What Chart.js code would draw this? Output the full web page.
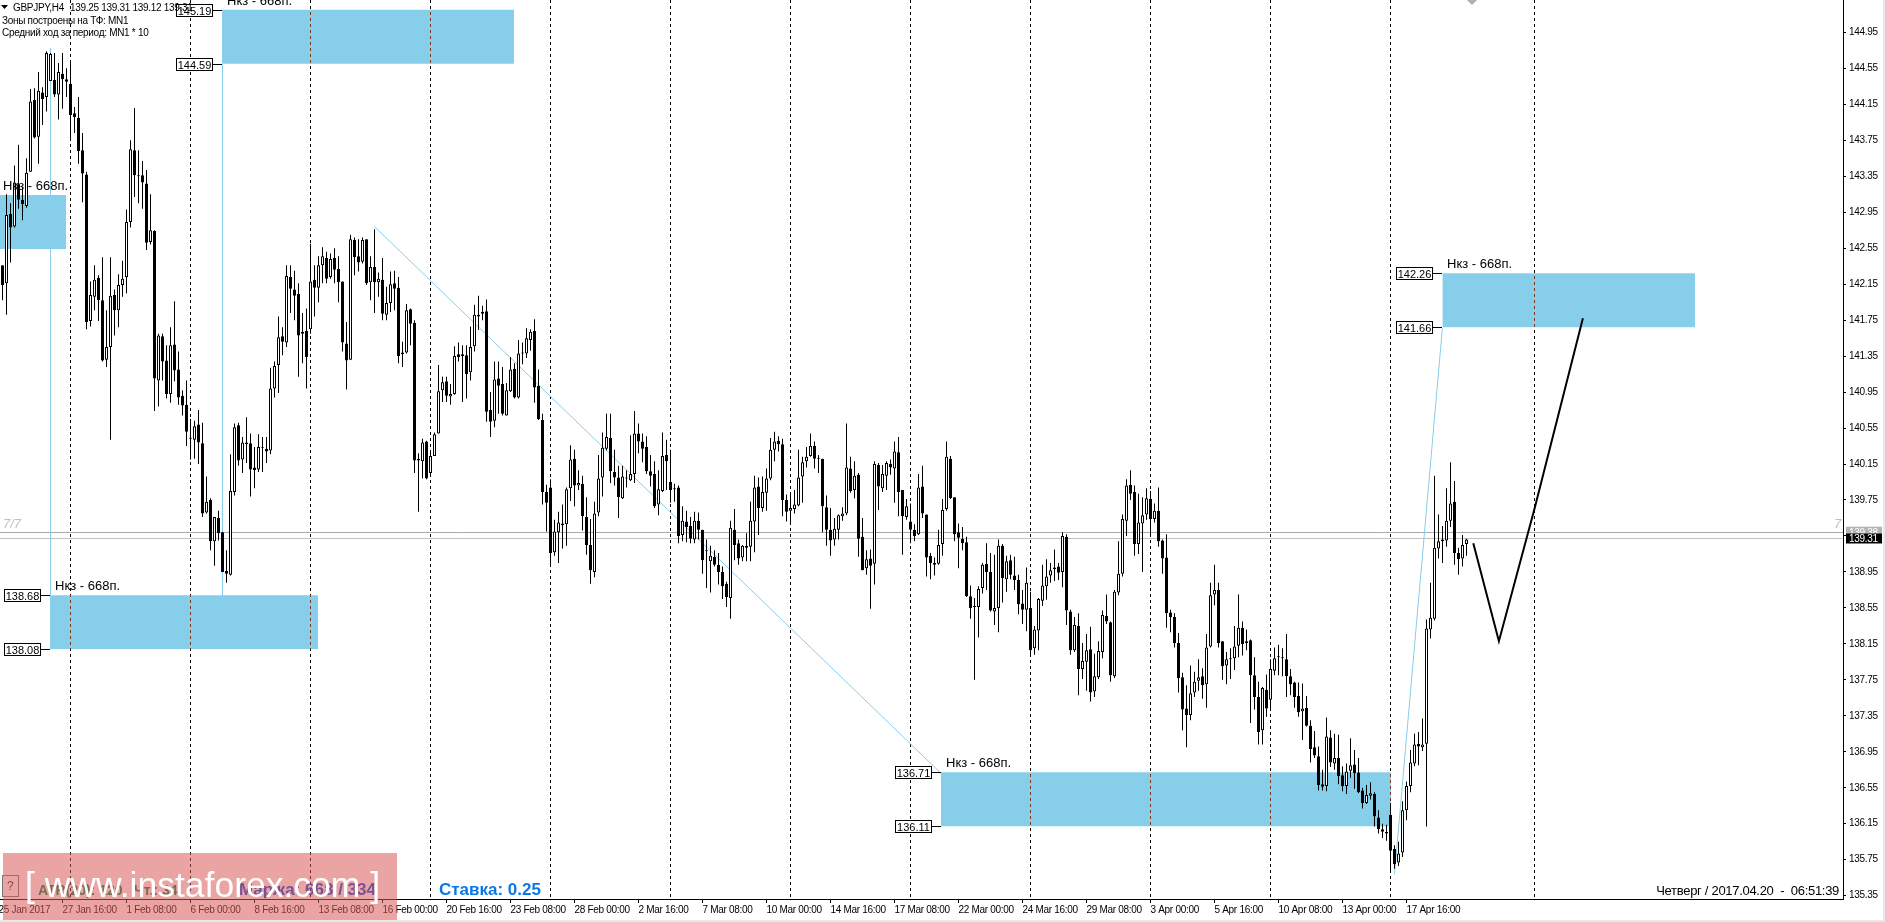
<!DOCTYPE html>
<html lang="ru">
<head>
  <meta charset="UTF-8" />
  <title>GBPJPY,H4</title>
  <script src="https://cdn.jsdelivr.net/npm/chart.js"></script>
  <style>
    html, body { margin: 0; padding: 0; background: #e6e9e9; overflow: hidden; }
    #wrap { width: 1883px; height: 920px; background: #fff; }
  </style>
</head>
<body>
  <div id="wrap"><canvas id="chart" width="1883" height="920"></canvas></div>

  <script>
    const opens = [
      142.36,142.16,142.93,142.79,143.26,143.09,143.02,143.40,144.20,143.79,
      144.28,144.23,144.41,144.42,144.26,144.49,144.43,144.38,144.05,144.00,
      143.64,143.37,141.74,142.01,142.22,141.97,141.31,141.45,142.03,141.86,
      142.14,142.23,142.84,143.64,143.36,143.36,143.27,142.62,142.74,141.08,
      141.57,141.30,140.93,141.48,141.20,140.91,140.81,140.44,140.42,140.59,
      140.38,139.61,139.75,139.29,139.55,139.39,138.96,138.92,139.84,140.58,
      140.20,140.39,140.38,140.11,140.09,140.34,140.32,140.30,140.99,141.25,
      141.57,141.50,142.23,142.09,142.04,141.62,141.63,141.65,142.20,142.11,
      142.36,142.44,142.23,142.44,142.32,142.18,141.49,141.31,142.64,142.46,
      142.40,142.65,142.17,142.34,142.17,142.20,141.81,141.94,142.16,142.11,
      141.39,141.39,141.87,141.72,140.21,140.18,140.40,140.05,140.24,140.49,
      140.97,141.07,140.90,140.93,141.37,141.35,141.36,141.17,141.46,141.79,
      141.84,141.85,140.75,140.63,141.10,141.04,140.69,140.96,141.21,140.89,
      141.38,141.38,141.53,141.63,141.02,140.64,139.84,139.89,139.17,139.39,
      139.49,139.48,139.88,140.21,139.91,139.93,139.56,139.25,138.95,139.61,
      140.00,140.32,140.44,140.06,140.00,139.77,140.00,139.97,140.04,140.49,
      140.40,140.34,140.07,140.04,139.70,139.85,140.25,139.95,139.88,139.89,
      139.36,139.51,139.46,139.31,139.52,139.42,139.19,139.07,139.12,139.03,
      138.95,138.82,138.66,139.42,139.27,139.11,139.24,139.23,139.51,139.90,
      139.66,139.83,139.99,140.31,140.41,140.37,139.75,139.63,139.65,139.69,
      140.01,140.18,140.24,140.35,140.22,140.21,139.67,139.42,139.31,139.42,
      139.57,139.60,140.10,139.86,140.03,139.34,138.99,139.10,139.04,140.14,
      139.88,140.02,140.15,140.10,140.28,139.86,139.56,139.51,139.42,139.37,
      139.90,139.59,139.13,139.05,139.04,139.26,139.65,140.21,139.78,139.39,
      139.32,139.28,138.68,138.57,138.56,138.77,139.04,138.95,138.51,138.55,
      139.24,138.87,139.08,138.91,138.86,138.60,138.53,138.55,138.10,138.30,
      138.63,138.79,138.91,138.98,139.01,138.95,139.34,138.51,138.08,138.35,
      137.87,137.95,138.09,137.62,137.78,138.06,138.46,138.39,137.79,138.72,
      138.93,139.52,139.92,139.84,139.26,139.49,139.59,139.76,139.54,139.63,
      139.30,139.11,138.50,138.45,138.16,137.78,137.43,137.36,137.61,137.74,
      137.79,137.70,138.12,138.70,138.75,138.18,137.91,137.99,137.99,138.13,
      138.33,138.16,138.19,137.80,137.56,137.19,137.64,137.53,137.85,138.00,
      138.00,137.98,137.79,137.72,137.57,137.40,137.44,137.24,137.00,136.90,
      136.59,136.57,137.11,136.82,136.88,136.69,136.57,136.74,136.81,136.72,
      136.52,136.38,136.46,136.48,136.22,136.09,136.06,136.25,135.87,135.72,
      135.83,136.30,136.57,136.82,137.04,137.00,137.04,138.31,138.43,139.21,
      139.31,139.30,139.52,139.73,139.16,139.10,139.26
    ];
    const closes = [
      142.14,142.92,142.78,143.28,143.09,143.04,143.39,144.18,143.78,144.30,
      144.21,144.72,144.71,144.26,144.51,144.43,144.40,144.03,144.01,143.63,
      143.38,141.73,142.03,142.20,141.97,141.30,141.45,142.02,141.86,142.14,
      142.21,142.84,143.65,143.36,143.35,143.28,142.61,142.75,141.10,141.58,
      141.29,140.93,141.47,141.19,140.89,140.80,140.51,140.43,140.57,140.39,
      139.60,139.73,139.29,139.56,139.38,138.95,138.93,139.85,140.56,140.19,
      140.39,140.37,140.09,140.08,140.34,140.33,140.29,140.99,141.24,141.56,
      141.51,142.24,142.10,142.02,141.58,141.60,141.34,142.18,142.11,142.36,
      142.46,142.21,142.43,142.31,142.17,141.50,141.30,142.65,142.45,142.39,
      142.64,142.16,142.34,142.17,142.21,141.82,141.94,142.15,142.10,141.35,
      141.37,141.86,141.71,140.19,140.19,140.39,139.99,140.24,140.48,140.96,
      141.06,140.91,140.93,141.35,141.34,141.37,141.15,141.45,141.81,141.81,
      141.82,140.73,140.62,141.09,141.02,140.71,140.97,141.20,140.89,141.38,
      141.39,141.55,141.62,141.00,140.65,139.84,139.72,139.16,139.40,139.50,
      139.47,139.87,140.20,139.91,139.94,139.57,139.25,138.97,139.60,139.99,
      140.33,140.45,140.07,140.00,139.78,140.01,139.99,140.04,140.49,140.40,
      140.32,140.07,140.02,139.68,139.87,140.24,140.18,139.86,139.87,139.35,
      139.52,139.45,139.32,139.52,139.42,139.08,139.18,139.13,139.03,138.95,
      138.79,138.67,139.44,139.25,139.10,139.24,139.22,139.52,139.89,139.66,
      139.84,139.99,140.31,140.40,140.37,139.75,139.62,139.66,139.70,140.00,
      140.17,140.23,140.35,140.21,140.21,139.68,139.42,139.30,139.43,139.58,
      139.60,140.11,139.85,140.02,139.32,138.97,139.09,139.02,140.15,139.90,
      140.04,140.16,140.11,140.29,139.84,139.57,139.68,139.42,139.35,139.89,
      139.60,139.11,139.05,139.03,139.25,139.64,140.23,139.77,139.37,139.33,
      139.27,138.68,138.55,138.56,138.76,139.03,138.95,138.52,138.55,139.24,
      138.88,139.07,138.92,138.86,138.59,138.53,138.83,138.08,138.31,138.65,
      138.80,138.90,138.97,139.00,138.94,139.35,138.52,138.08,138.36,137.87,
      137.96,138.08,137.61,137.79,138.07,138.47,138.40,137.80,138.73,138.93,
      139.54,139.91,139.82,139.26,139.50,139.58,139.77,139.54,139.63,139.29,
      139.10,138.49,138.45,138.16,137.77,137.42,137.36,137.60,137.73,137.78,
      137.69,138.11,138.69,138.75,138.16,137.90,137.98,137.98,138.12,138.33,
      138.15,138.18,137.80,137.56,137.17,137.66,137.43,137.87,137.99,138.01,
      137.99,137.79,137.70,137.56,137.39,137.43,137.24,136.98,136.91,136.58,
      136.56,137.12,136.83,136.88,136.68,136.57,136.73,136.80,136.71,136.50,
      136.38,136.47,136.49,136.23,136.09,136.06,136.04,135.85,135.70,135.82,
      136.30,136.57,136.83,137.03,137.01,137.03,138.32,138.44,139.22,139.29,
      139.29,139.52,139.71,139.16,139.09,139.25,139.31
    ];
    const highs = [
      142.36,143.15,143.05,143.47,143.70,143.23,143.55,144.32,144.33,144.51,
      144.34,144.74,144.72,144.72,144.61,144.72,144.55,144.61,144.12,144.23,
      143.83,143.40,142.18,142.36,142.25,142.45,141.86,142.45,142.09,142.26,
      142.41,142.98,143.75,144.11,143.64,143.52,143.42,143.15,142.75,141.60,
      141.60,141.47,141.67,141.96,141.40,140.97,141.08,140.65,140.63,140.75,
      140.61,140.01,139.77,139.56,139.63,139.39,139.19,140.26,140.60,140.61,
      140.45,140.67,140.49,140.34,140.48,140.45,140.45,141.22,141.29,141.79,
      141.67,142.36,142.36,142.30,142.16,141.83,141.88,142.60,142.36,142.46,
      142.56,142.51,142.49,142.55,142.46,142.18,141.73,142.70,142.67,142.65,
      142.67,142.65,142.46,142.76,142.28,142.44,142.12,142.29,142.30,142.23,
      141.51,141.93,141.88,141.75,140.27,140.43,140.41,140.29,140.50,141.25,
      141.12,141.12,141.04,141.46,141.50,141.47,141.47,141.68,141.92,142.02,
      141.91,141.98,140.95,141.29,141.29,141.23,141.05,141.34,141.27,141.53,
      141.50,141.66,141.65,141.76,141.20,140.71,139.92,139.98,139.53,139.62,
      139.70,139.89,140.36,140.31,140.08,140.02,139.78,139.54,139.73,140.25,
      140.50,140.71,140.71,140.31,140.13,140.13,140.08,140.47,140.74,140.60,
      140.49,140.46,140.25,140.18,140.08,140.50,140.42,140.31,139.93,139.91,
      139.68,139.63,139.56,139.62,139.61,139.42,139.31,139.24,139.19,139.16,
      139.01,138.84,139.52,139.65,139.31,139.25,139.38,139.73,140.02,140.00,
      140.01,140.10,140.44,140.51,140.46,140.43,139.81,139.83,139.86,140.31,
      140.23,140.34,140.49,140.40,140.25,140.21,139.80,139.66,139.55,139.59,
      139.67,140.60,140.23,140.18,140.05,139.55,139.19,139.20,140.18,140.16,
      140.14,140.18,140.20,140.40,140.45,139.86,139.76,139.71,139.48,140.04,
      140.13,139.59,139.16,139.11,139.42,139.76,140.40,140.24,139.78,139.49,
      139.45,139.34,138.80,138.66,138.79,139.05,139.27,139.16,139.14,139.31,
      139.26,139.13,139.14,139.12,138.92,138.75,139.00,138.73,138.35,138.66,
      139.03,139.09,139.05,139.20,139.05,139.39,139.37,138.53,138.45,138.49,
      138.16,138.26,138.34,138.04,138.18,138.52,138.70,138.40,138.75,139.29,
      139.59,139.98,140.08,139.91,139.82,139.78,139.88,139.85,139.71,139.89,
      139.31,139.37,138.53,138.49,138.27,137.83,137.69,137.91,137.84,137.98,
      137.88,138.26,138.83,139.03,138.83,138.18,138.06,138.10,138.35,138.70,
      138.40,138.31,138.20,138.00,137.73,137.67,137.81,137.98,138.11,138.14,
      138.10,138.26,137.87,137.73,137.72,137.71,137.57,137.30,137.18,137.01,
      136.75,137.33,137.19,137.15,137.14,136.79,136.82,137.10,136.97,136.88,
      136.55,136.58,136.61,136.50,136.30,136.15,136.14,136.38,135.91,135.95,
      136.40,136.62,136.97,137.15,137.17,137.32,138.42,138.83,140.02,139.59,
      139.46,139.88,140.17,139.96,139.22,139.36,139.32
    ];
    const lows = [
      141.97,141.81,142.39,142.78,142.99,142.86,143.00,143.40,143.77,143.49,
      143.92,144.07,144.41,144.23,143.98,144.10,144.23,143.77,143.83,143.49,
      143.06,141.65,141.68,141.86,141.74,141.29,141.23,140.42,141.58,141.67,
      142.01,142.05,142.78,143.12,143.05,142.99,142.53,142.59,140.74,140.79,
      141.08,140.88,140.83,141.07,140.81,140.69,140.35,140.20,140.21,140.15,
      139.56,139.60,139.19,139.02,139.30,138.95,138.83,138.91,139.80,140.13,
      140.05,140.16,139.79,139.88,140.06,140.06,140.16,140.26,140.89,140.94,
      141.36,141.45,141.83,141.75,141.12,141.27,140.99,141.60,141.79,141.95,
      142.16,142.16,142.21,142.16,141.95,141.40,140.98,141.31,142.25,142.29,
      142.38,142.14,141.97,141.83,142.01,141.75,141.75,141.84,141.86,141.27,
      141.23,141.38,141.47,140.05,139.62,139.99,139.98,140.01,140.24,140.49,
      140.84,140.84,140.81,140.92,141.29,140.84,140.88,141.08,141.40,141.64,
      141.75,140.62,140.45,140.56,140.71,140.69,140.69,140.95,140.88,140.88,
      141.26,141.33,141.41,140.83,140.64,139.70,139.40,139.01,139.13,139.05,
      139.21,139.24,139.74,139.68,139.86,139.41,139.14,138.82,138.89,139.57,
      139.79,140.30,139.94,139.91,139.55,139.76,139.89,139.96,139.94,140.27,
      140.17,140.04,139.90,139.66,139.58,139.84,139.86,139.72,139.73,139.27,
      139.29,139.28,139.27,139.27,139.31,138.93,138.77,138.72,139.01,138.81,
      138.65,138.56,138.43,139.08,139.03,139.07,139.07,139.07,139.17,139.36,
      139.62,139.63,139.97,140.18,140.29,139.57,139.51,139.49,139.60,139.68,
      139.72,140.11,140.23,140.10,140.05,139.39,139.24,139.13,139.24,139.31,
      139.52,139.58,139.83,139.77,139.12,138.97,138.92,138.54,138.81,139.64,
      139.84,139.86,140.03,139.72,139.57,139.14,139.53,139.27,139.29,139.36,
      139.55,138.90,138.87,138.91,139.03,139.13,139.63,139.76,139.29,138.99,
      139.19,138.67,138.43,137.75,138.22,138.71,138.75,138.51,138.36,138.28,
      138.61,138.73,138.87,138.75,138.48,138.37,138.29,138.03,138.03,138.08,
      138.57,138.64,138.83,138.85,138.86,138.78,138.36,138.03,138.06,137.58,
      137.76,137.63,137.51,137.56,137.76,137.99,138.37,137.73,137.77,138.69,
      138.90,139.35,139.75,139.13,139.15,138.95,139.53,139.35,139.50,139.23,
      138.93,138.33,138.28,138.11,137.61,137.19,137.00,137.30,137.56,137.63,
      137.54,137.44,138.11,138.58,138.11,137.75,137.70,137.76,137.86,138.00,
      138.02,138.08,137.27,137.42,137.03,137.03,137.34,137.42,137.80,137.80,
      137.79,137.56,137.58,137.44,137.34,137.08,137.23,136.83,136.88,136.52,
      136.52,136.51,136.78,136.75,136.59,136.51,136.48,136.66,136.54,136.49,
      136.32,136.37,136.42,136.12,136.04,135.99,135.96,135.62,135.65,135.68,
      135.78,136.19,136.50,136.79,136.80,136.96,136.12,138.21,138.41,139.10,
      139.05,139.23,139.45,139.03,138.92,139.01,139.13
    ];

    const priceTicks = [144.95,144.55,144.15,143.75,143.35,142.95,142.55,142.15,141.75,141.35,140.95,140.55,140.15,139.75,139.35,138.95,138.55,138.15,137.75,137.35,136.95,136.55,136.15,135.75,135.35];
    const timeTicks = [-1,15,31,47,63,79,95,111,127,143,159,175,191,207,223,239,255,271,287,303,319,335,351];
    const timeLabels = ['25 Jan 2017','27 Jan 16:00','1 Feb 08:00','6 Feb 00:00','8 Feb 16:00','13 Feb 08:00','16 Feb 00:00','20 Feb 16:00','23 Feb 08:00','28 Feb 00:00','2 Mar 16:00','7 Mar 08:00','10 Mar 00:00','14 Mar 16:00','17 Mar 08:00','22 Mar 00:00','24 Mar 16:00','29 Mar 08:00','3 Apr 00:00','5 Apr 16:00','10 Apr 08:00','13 Apr 00:00','17 Apr 16:00'];
    const periodLines = [17,47,77,107,137,167,197,227,257,287,317,347,383];
    const periodDash = [3, 3];

    const xMin = -0.625, xMax = 460.125;
    const yMax = 145.31, yMin = 135.313;
    // drawn objects and quote lines sit about a pixel above the candle scale
    const quoteShift = 0.012;

    // blue zones: two prices and the bars they run between
    const zoneTop = [145.19,143.13,138.68,136.71,142.26];
    const zoneBottom = [144.59,142.53,138.08,136.11,141.66];
    const zoneFrom = [54.88,xMin,11.88,234.63,359.97];
    const zoneTo = [127.88,15.88,78.88,347.13,423.13];
    const zoneLabel = 'Нкз - 668п.';

    // thin lines going to the zones
    const linkBars = [[12,12],[55,55],[93,234.63],[348,359.97]];
    const linkPrices = [[144.77,138.68],[144.59,138.68],[142.79,136.71],[135.59,141.66]];

    const forecastBars = [367.7,374.1,383.1,395.1];
    const forecastPrices = [139.27,138.18,139.67,141.77];

    const askPrice = 139.38, bidPrice = 139.31;

    const toXY = (xs, ys) => xs.map((x, i) => ({ x: x, y: ys[i] }));
    const noPadding = s => { s.paddingTop = s.paddingBottom = s.paddingLeft = s.paddingRight = 0; };

    const datasets = [];
    zoneTop.forEach((top, i) => {
      datasets.push({
        type: 'line', order: 10, isZone: true, yAxisID: 'quotes',
        data: toXY([zoneFrom[i], zoneTo[i]], [top, top]),
        fill: { target: { value: zoneBottom[i] } },
        backgroundColor: '#87ceeb', borderWidth: 0, pointRadius: 0
      });
    });
    linkBars.forEach((bars, i) => {
      datasets.push({
        type: 'line', order: 9,
        data: toXY(bars, linkPrices[i]),
        borderColor: '#87ceeb', borderWidth: 1, pointRadius: 0, fill: false
      });
    });
    datasets.push({
      type: 'bar', order: 3, label: 'wicks', grouped: false,
      data: highs.map((h, i) => ({ x: i, y: [lows[i], h] })),
      backgroundColor: '#000', borderWidth: 0, barThickness: 1, inflateAmount: 0
    });
    datasets.push({
      type: 'bar', order: 2, label: 'bodies', grouped: false,
      data: opens.map((o, i) => ({ x: i, y: [o, closes[i]] })),
      backgroundColor: opens.map((o, i) => closes[i] >= o ? '#fff' : '#000'),
      borderColor: '#000', borderWidth: 1, borderSkipped: false,
      barThickness: 3, inflateAmount: 0, minBarLength: 1
    });
    datasets.push({
      type: 'line', order: 1,
      data: toXY(forecastBars, forecastPrices),
      borderColor: '#000', borderWidth: 2, pointRadius: 0, fill: false
    });

    const fontSans = '"Liberation Sans", sans-serif';

    const tightText = {
      id: 'tightText',
      beforeDraw(chart) { chart.ctx.letterSpacing = '-0.3px'; }
    };

    // vertical period lines look reddish on the blue zones
    const zoneDashes = {
      id: 'zoneDashes',
      afterDatasetDraw(chart, args) {
        const ds = chart.data.datasets[args.index];
        if (!ds.isZone) return;
        const x = chart.scales.x, y = chart.scales.quotes;
        const ctx = chart.ctx;
        const left = x.getPixelForValue(ds.data[0].x), right = x.getPixelForValue(ds.data[1].x);
        const top = y.getPixelForValue(ds.data[0].y), bottom = y.getPixelForValue(ds.fill.target.value);
        ctx.save();
        ctx.beginPath();
        ctx.rect(left, top, right - left, bottom - top);
        ctx.clip();
        ctx.strokeStyle = '#7a3a1e';
        ctx.lineWidth = 1;
        ctx.setLineDash(periodDash);
        periodLines.forEach(b => {
          const px = Math.floor(x.getPixelForValue(b)) + 0.5;
          ctx.beginPath();
          ctx.moveTo(px, chart.chartArea.top);
          ctx.lineTo(px, chart.chartArea.bottom);
          ctx.stroke();
        });
        ctx.restore();
      }
    };

    const overlay = {
      id: 'overlay',
      afterDraw(chart) {
        const ctx = chart.ctx;
        const x = chart.scales.x, y = chart.scales.quotes;
        ctx.save();
        ctx.textBaseline = 'alphabetic';
        ctx.letterSpacing = '0px';

        // zone captions and price tags
        zoneTop.forEach((top, i) => {
          const left = Math.round(x.getPixelForValue(zoneFrom[i]));
          ctx.fillStyle = '#000';
          ctx.font = '13px ' + fontSans;
          ctx.textAlign = 'left';
          ctx.fillText(zoneLabel, left <= 0 ? 3 : left + 5, y.getPixelForValue(top) - 5);
          if (left <= 0) return;
          [top, zoneBottom[i]].forEach(price => {
            const py = Math.round(y.getPixelForValue(price)) + 0.5;
            ctx.strokeStyle = '#000';
            ctx.lineWidth = 1;
            ctx.beginPath();
            ctx.moveTo(left - 10, py);
            ctx.lineTo(left, py);
            ctx.stroke();
            ctx.fillStyle = '#fff';
            ctx.fillRect(left - 45.5, py - 6, 36, 12);
            ctx.strokeRect(left - 45.5, py - 6, 36, 12);
            ctx.fillStyle = '#000';
            ctx.font = '11px ' + fontSans;
            ctx.textAlign = 'center';
            ctx.fillText(price.toFixed(2), left - 27.5, py + 4);
          });
        });

        // header
        ctx.textAlign = 'left';
        ctx.fillStyle = '#000';
        ctx.beginPath();
        ctx.moveTo(1, 5); ctx.lineTo(8, 5); ctx.lineTo(4.5, 9); ctx.closePath();
        ctx.fill();
        ctx.letterSpacing = '-0.3px';
        ctx.font = '10px ' + fontSans;
        ctx.fillText('GBPJPY,H4', 13, 11);
        ctx.fillText('139.25 139.31 139.12 139.31', 70, 11);
        ctx.fillText('Зоны построены на ТФ: MN1', 2, 24);
        ctx.fillText('Средний ход за период: MN1 * 10', 2, 36);
        ctx.letterSpacing = '0px';

        // grey tip at the top
        ctx.fillStyle = '#b0b0b0';
        ctx.beginPath();
        ctx.moveTo(1467, 0); ctx.lineTo(1477, 0); ctx.lineTo(1472, 5); ctx.closePath();
        ctx.fill();

        // window counters
        ctx.fillStyle = '#c0c0c0';
        ctx.font = 'italic 13px ' + fontSans;
        ctx.fillText('7/7', 3, 528);
        ctx.fillText('7', 1834, 528);

        // price boxes on the axis
        const askY = y.getPixelForValue(askPrice), bidY = y.getPixelForValue(bidPrice);
        ctx.letterSpacing = '-0.3px';
        ctx.font = '10px ' + fontSans;
        ctx.fillStyle = '#b4b4b4';
        ctx.fillRect(1846, askY - 5.5, 36, 11);
        ctx.fillStyle = '#fff';
        ctx.fillText(askPrice.toFixed(2), 1849, askY + 3.5);
        ctx.fillStyle = '#000';
        ctx.fillRect(1846, bidY - 5, 36, 10);
        ctx.fillStyle = '#fff';
        ctx.fillText(bidPrice.toFixed(2), 1849, bidY + 3.5);

        // footer
        ctx.fillStyle = '#000';
        ctx.font = '13px ' + fontSans;
        ctx.textAlign = 'right';
        ctx.fillText('Четверг / 2017.04.20  -  06:51:39', 1839, 895);
        ctx.letterSpacing = '0px';

        ctx.textAlign = 'left';
        ctx.strokeStyle = '#777';
        ctx.strokeRect(2.5, 875.5, 16, 21);
        ctx.fillStyle = '#333';
        ctx.font = '12px ' + fontSans;
        ctx.fillText('?', 7, 890);
        ctx.font = 'bold 14px ' + fontSans;
        ctx.fillStyle = '#008650';
        ctx.fillText('ATR(20): 120', 38, 895);
        ctx.fillText('Чт.: 34', 134, 895);
        ctx.font = 'bold 17px ' + fontSans;
        ctx.fillStyle = '#0048e0';
        ctx.fillText('Маржа: 668 / 334', 239, 895);
        ctx.fillStyle = '#0a78e8';
        ctx.fillText('Ставка: 0.25', 439, 895);

        // watermark
        ctx.fillStyle = 'rgba(217,90,90,.55)';
        ctx.fillRect(3, 853, 394, 67);
        ctx.fillStyle = '#fff';
        ctx.font = '35.5px ' + fontSans;
        ctx.fillText('[ www.instaforex.com ]', 25, 897);
        ctx.restore();
      }
    };

    new Chart(document.getElementById('chart'), {
      type: 'bar',
      data: { datasets: datasets },
      plugins: [tightText, zoneDashes, overlay],
      options: {
        responsive: false,
        animation: false,
        devicePixelRatio: 1,
        layout: { padding: 0 },
        plugins: { legend: { display: false }, tooltip: { enabled: false } },
        scales: {
          x: {
            type: 'linear', position: 'bottom', min: xMin, max: xMax, offset: false,
            afterBuildTicks: s => { s.ticks = timeTicks.map(v => ({ value: v })); },
            afterFit: s => { s.height = 21; noPadding(s); },
            border: { color: '#000', width: 1 },
            grid: { drawOnChartArea: false, tickLength: 4, tickColor: '#000', offset: false },
            ticks: {
              autoSkip: false, maxRotation: 0, align: 'start', padding: 1, color: '#000',
              font: { family: fontSans, size: 10 },
              callback: (v, i) => timeLabels[i]
            }
          },
          periods: {
            type: 'linear', position: 'bottom', min: xMin, max: xMax, offset: false,
            afterBuildTicks: s => { s.ticks = periodLines.map(v => ({ value: v })); },
            afterFit: s => { s.height = 0; noPadding(s); },
            border: { display: false, dash: periodDash },
            grid: { color: '#000', lineWidth: 1, drawTicks: false, tickLength: 0, offset: false },
            ticks: { display: false, autoSkip: false }
          },
          y: {
            type: 'linear', position: 'right', min: yMin, max: yMax,
            afterBuildTicks: s => { s.ticks = priceTicks.map(v => ({ value: v })); },
            afterFit: s => { s.width = 40; noPadding(s); },
            border: { color: '#000', width: 1 },
            grid: { drawOnChartArea: false, tickLength: 3, tickColor: '#000' },
            ticks: {
              autoSkip: false, padding: 3, color: '#000',
              font: { family: fontSans, size: 10 },
              callback: v => v.toFixed(2)
            }
          },
          quotes: {
            type: 'linear', position: 'right', min: yMin - quoteShift, max: yMax - quoteShift,
            afterBuildTicks: s => { s.ticks = [askPrice, bidPrice].map(v => ({ value: v })); },
            afterFit: s => { s.width = 0; noPadding(s); },
            border: { display: false },
            grid: { color: c => c.index === 0 ? '#a9a9a9' : '#c0c0c0', lineWidth: 1, drawTicks: false, tickLength: 0 },
            ticks: { display: false, autoSkip: false }
          }
        }
      }
    });
  </script>
</body>
</html>
